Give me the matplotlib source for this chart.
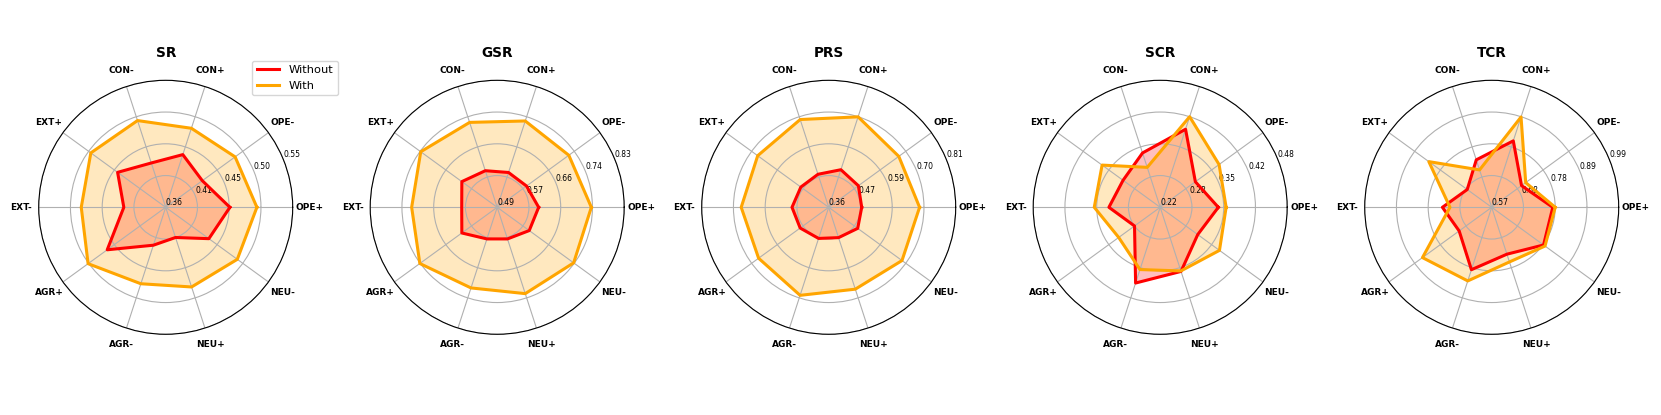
import numpy as np
import matplotlib
matplotlib.use('Agg')
import matplotlib.pyplot as plt

# categories, counter-clockwise from 0 deg
categories = ['OPE+', 'OPE-', 'CON+', 'CON-', 'EXT+', 'EXT-', 'AGR+', 'AGR-', 'NEU+', 'NEU-']
metrics = ['SR', 'GSR', 'PRS', 'SCR', 'TCR']

# values
sr_without = [0.455, 0.427, 0.442, 0.429, 0.448, 0.422, 0.467, 0.419, 0.407, 0.439]
sr_with = [0.495, 0.487, 0.483, 0.495, 0.497, 0.485, 0.502, 0.479, 0.484, 0.491]
gsr_without = [0.601, 0.587, 0.588, 0.593, 0.607, 0.585, 0.607, 0.579, 0.579, 0.596]
gsr_with = [0.742, 0.727, 0.733, 0.729, 0.743, 0.719, 0.746, 0.717, 0.733, 0.743]
prs_without = [0.477, 0.490, 0.500, 0.483, 0.482, 0.490, 0.485, 0.476, 0.473, 0.487]
prs_with = [0.682, 0.667, 0.697, 0.687, 0.671, 0.670, 0.667, 0.688, 0.665, 0.681]
scr_without = [0.339, 0.309, 0.388, 0.337, 0.314, 0.325, 0.285, 0.383, 0.358, 0.315]
scr_with = [0.355, 0.369, 0.415, 0.306, 0.367, 0.355, 0.325, 0.354, 0.357, 0.370]
tcr_without = [0.772, 0.692, 0.801, 0.735, 0.670, 0.733, 0.703, 0.787, 0.733, 0.782]
tcr_with = [0.780, 0.709, 0.884, 0.700, 0.827, 0.708, 0.853, 0.826, 0.760, 0.788]

# radial limits and tick labels of each panel
r_limits = [(0.36, 0.548), (0.49, 0.83), (0.36, 0.81), (0.22, 0.48), (0.57, 0.99)]
r_ticklabels = [
    ['0.36', '0.41', '0.45', '0.50', '0.55'],
    ['0.49', '0.57', '0.66', '0.74', '0.83'],
    ['0.36', '0.47', '0.59', '0.70', '0.81'],
    ['0.22', '0.28', '0.35', '0.42', '0.48'],
    ['0.57', '0.68', '0.78', '0.89', '0.99'],
]

without_all = [sr_without, gsr_without, prs_without, scr_without, tcr_without]
with_all = [sr_with, gsr_with, prs_with, scr_with, tcr_with]

W, H = 1661, 415
fig = plt.figure(figsize=(W/100, H/100), dpi=100)

angles = np.linspace(0, 2*np.pi, len(categories), endpoint=False)
angles_c = np.concatenate([angles, angles[:1]])

side = 254
for i, name in enumerate(metrics):
    cx = 165.7 + i*331.5
    ax = fig.add_axes([(cx - side/2)/W, 80.7/H, side/W, side/H], projection='polar')

    v0 = np.array(without_all[i] + without_all[i][:1])
    v1 = np.array(with_all[i] + with_all[i][:1])

    ax.plot(angles_c, v0, color='red', linewidth=2.2, label='Without')
    ax.fill(angles_c, v0, color='red', alpha=0.25)
    ax.plot(angles_c, v1, color='orange', linewidth=2.2, label='With')
    ax.fill(angles_c, v1, color='orange', alpha=0.25)

    rmin, rmax = r_limits[i]
    ax.set_ylim(rmin, rmax)
    ax.set_yticks(np.linspace(rmin, rmax, 5))
    ax.set_yticklabels(r_ticklabels[i], fontsize=5.5)
    ax.set_xticks(angles)
    ax.set_xticklabels(categories, fontsize=6.5, fontweight='bold')
    ax.tick_params(axis='x', pad=2)
    ax.set_title(name, fontsize=9.8, fontweight='bold', pad=17)

    if i == 0:
        ax.legend(loc='upper right', bbox_to_anchor=(1.2, 1.1), fontsize=8.2)

fig.savefig('out.png', dpi=100)
